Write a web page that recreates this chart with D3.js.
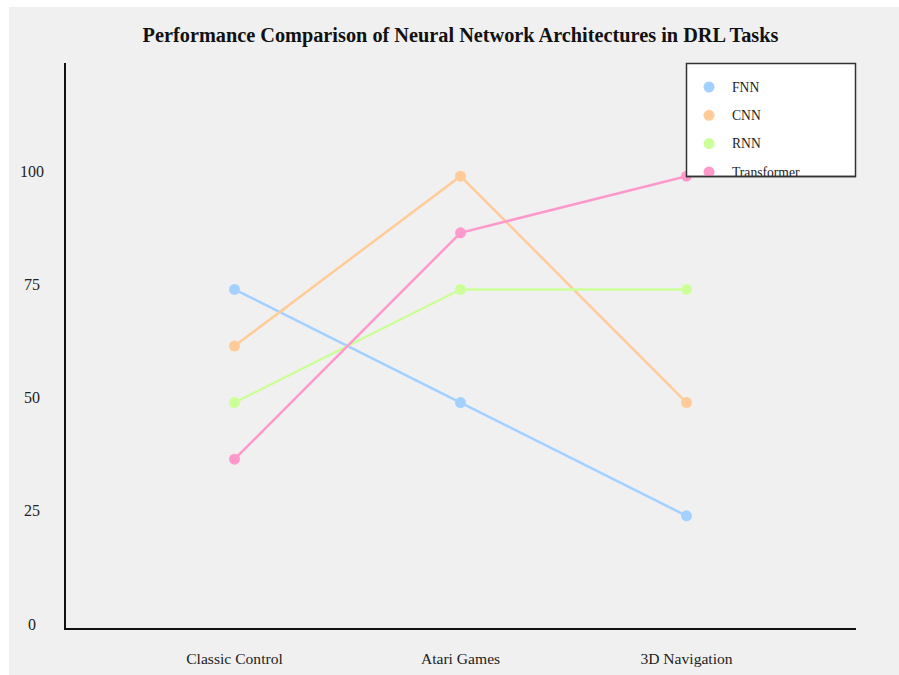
<!DOCTYPE html>
<html><head><meta charset="utf-8">
<script src="https://cdn.jsdelivr.net/npm/d3@7"></script>
<style>html,body{margin:0;padding:0;background:#fff;}svg{display:block;}</style>
</head><body>
<script>
const categories = ["Classic Control", "Atari Games", "3D Navigation"];
const seriesNames = ["FNN", "CNN", "RNN", "Transformer"];
const fnnValues = [75, 50, 25];
const cnnValues = [62.5, 100, 50];
const rnnValues = [50, 75, 75];
const transformerValues = [37.5, 87.5, 100];
const colors = ["#a3d0ff", "#ffcc99", "#ccff99", "#ff99cc"];
const yTicks = [0, 25, 50, 75, 100];
const title = "Performance Comparison of Neural Network Architectures in DRL Tasks";

(function () {
const series = [fnnValues, cnnValues, rnnValues, transformerValues].map((v, i) => ({name: seriesNames[i], values: v, color: colors[i]}));

const W = 899, H = 675;
const svg = d3.select("body").append("svg").attr("width", W).attr("height", H);
svg.append("rect").attr("x", 9).attr("y", 7).attr("width", W - 9).attr("height", H - 7).attr("fill", "#f0f0f0");

const mLeft = 65, mRight = 856, mTop = 63, mBottom = 629;
const x = d3.scalePoint().domain(categories).range([mLeft, mRight]).padding(0.75);
const y = d3.scaleLinear().domain([0, 125]).range([mBottom, mTop]);

const font = "'Liberation Serif', 'Times New Roman', serif";

svg.append("text").attr("x", (mLeft + mRight) / 2).attr("y", 42).attr("text-anchor", "middle")
  .attr("font-family", font).attr("font-weight", "bold").attr("font-size", 20.3).attr("fill", "#111").text(title);

svg.append("line").attr("x1", mLeft).attr("x2", mLeft).attr("y1", mTop).attr("y2", mBottom + 1).attr("stroke", "#111").attr("stroke-width", 2);
svg.append("line").attr("x1", mLeft).attr("x2", mRight).attr("y1", mBottom).attr("y2", mBottom).attr("stroke", "#111").attr("stroke-width", 2);

svg.selectAll(".yt").data(yTicks).enter().append("text")
  .attr("x", 32).attr("y", d => y(d) - 5).attr("dy", "0.35em").attr("text-anchor", "middle")
  .attr("font-family", font).attr("font-size", 16).attr("fill", "#222").text(d => d);

svg.selectAll(".xt").data(categories).enter().append("text")
  .attr("x", d => x(d)).attr("y", 664).attr("text-anchor", "middle")
  .attr("font-family", font).attr("font-size", 15.6).attr("fill", "#222").text(d => d);

const line = d3.line().x((d, i) => x(categories[i])).y(d => y(d));
series.forEach(s => {
  svg.append("path").attr("d", line(s.values)).attr("fill", "none").attr("stroke", s.color).attr("stroke-width", 2.5);
  svg.selectAll(null).data(s.values).enter().append("circle")
    .attr("cx", (d, i) => x(categories[i])).attr("cy", d => y(d)).attr("r", 5.5).attr("fill", s.color);
});

const lg = svg.append("g");
lg.append("rect").attr("x", 686.5).attr("y", 63.5).attr("width", 169).attr("height", 113).attr("fill", "#fff").attr("stroke", "#333").attr("stroke-width", 1.5);
series.forEach((s, i) => {
  const cy = 87 + i * 28.3;
  lg.append("circle").attr("cx", 709).attr("cy", cy).attr("r", 5.5).attr("fill", s.color);
  lg.append("text").attr("x", 732).attr("y", cy).attr("dy", "0.35em").attr("font-family", font).attr("font-size", 13.6).attr("fill", "#222").text(s.name);
});
lg.append("line").attr("x1", 686).attr("x2", 856).attr("y1", 176.5).attr("y2", 176.5).attr("stroke", "#333").attr("stroke-width", 1.5);
})();
</script>
</body></html>
